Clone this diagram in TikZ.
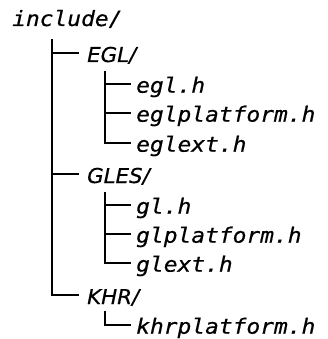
\documentclass[tikz,border=0pt]{standalone}
\usepackage{fontspec}
\setsansfont{DejaVu Sans}[FakeStretch=1.04, FakeBold=0.5]
\setmonofont{DejaVu Sans Mono}[FakeStretch=1.09, FakeBold=0.5]
\tikzset{
  dirname/.style={anchor=base west, inner sep=0pt,
    font=\sffamily\itshape\fontsize{20.5}{23}\selectfont},
  filename/.style={anchor=base west, inner sep=0pt,
    font=\ttfamily\itshape\fontsize{21}{23}\selectfont},
  branch/.style={line width=1.1pt, line cap=rect},
  tolabel/.style={branch, shorten >=9pt},
  tofile/.style={branch, shorten >=6pt}
}
\begin{document}
\begin{tikzpicture}[x=1pt, y=-1pt]
  \useasboundingbox (0,0) rectangle (327,339);

  % root directory
  \node[filename] (root) at (12,26) {include/};

  % directories
  \node[dirname] (egl)  at (87,62)  {EGL/};
  \node[dirname] (gles) at (87,183) {GLES/};
  \node[dirname] (khr)  at (87,304) {KHR/};

  % header files
  \node[filename] (eglh)    at (136,92.7)  {egl.h};
  \node[filename] (eglplat) at (136,121.7) {eglplatform.h};
  \node[filename] (eglext)  at (136,151.7) {eglext.h};
  \node[filename] (glh)     at (136,213.7) {gl.h};
  \node[filename] (glplat)  at (136,242.7) {glplatform.h};
  \node[filename] (glext)   at (136,271.7) {glext.h};
  \node[filename] (khrplat) at (136,333.7) {khrplatform.h};

  % junction points on the trunks
  \coordinate (top)    at (52,40);
  \coordinate (j-egl)  at (52,53);
  \coordinate (j-gles) at (52,174);
  \coordinate (j-khr)  at (52,295);

  \coordinate (t-egl)  at (105,72);
  \coordinate (t-gles) at (105,193);
  \coordinate (t-khr)  at (105,312);

  \coordinate (j-eglh)    at (105,84);
  \coordinate (j-eglplat) at (105,113);
  \coordinate (j-eglext)  at (105,143);
  \coordinate (j-glh)     at (105,205);
  \coordinate (j-glplat)  at (105,234);
  \coordinate (j-glext)   at (105,263);
  \coordinate (j-khrplat) at (105,325);

  % main trunk and its branches
  \draw[branch] (top) -- (j-khr);
  \foreach \j/\n in {j-egl/egl, j-gles/gles, j-khr/khr}
    \draw[tolabel] (\j) -- (\j -| \n.west);

  % sub-trunks
  \draw[branch] (t-egl)  -- (j-eglext);
  \draw[branch] (t-gles) -- (j-glext);
  \draw[branch] (t-khr)  -- (j-khrplat);

  % file branches
  \foreach \j/\n in {j-eglh/eglh, j-eglplat/eglplat, j-eglext/eglext,
                     j-glh/glh, j-glplat/glplat, j-glext/glext,
                     j-khrplat/khrplat}
    \draw[tofile] (\j) -- (\j -| \n.west);
\end{tikzpicture}
\end{document}
